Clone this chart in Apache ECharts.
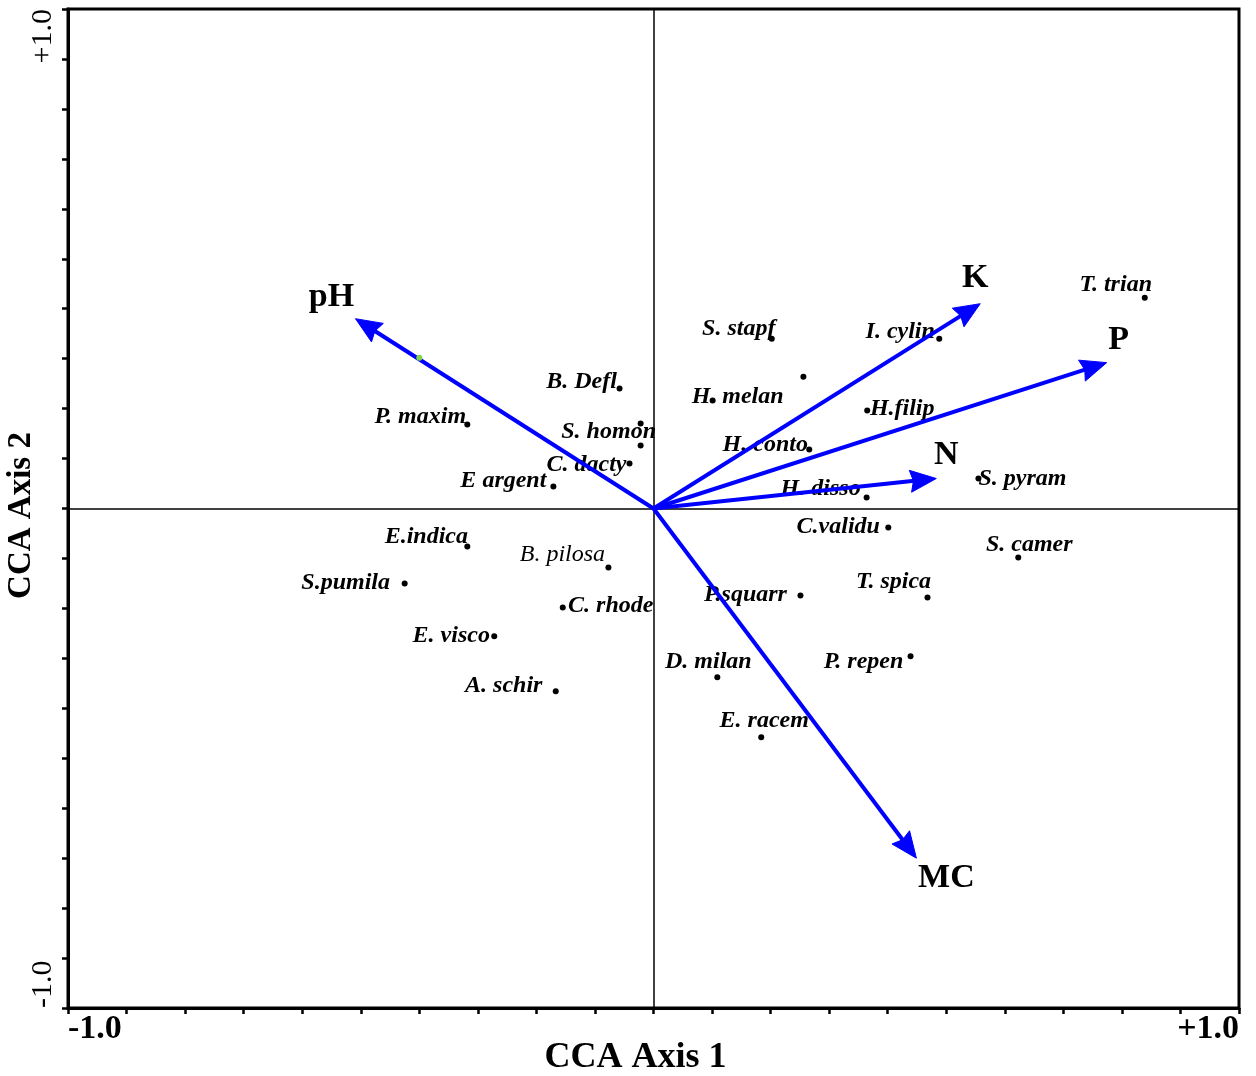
<!DOCTYPE html>
<html><head><meta charset="utf-8">
<script src="https://cdn.jsdelivr.net/npm/echarts@6/dist/echarts.min.js"></script>
<style>html,body{margin:0;padding:0;background:#fff}#c{width:1256px;height:1076px}</style>
</head><body><div id="c"></div>
<script>
// ---- data ----
const axisTitles = ['CCA Axis 1', 'CCA Axis 2'];
const tickLabels = {min: '-1.0', max: '+1.0'};
const envNames = ['pH', 'K', 'P', 'N', 'MC'];
const envX = [-0.509, 0.558, 0.774, 0.483, 0.449];
const envY = [0.380, 0.410, 0.292, 0.060, -0.700];
const speciesNames = ['T. trian','S. stapf','I. cylin','','B. Defl','H. melan','H.filip','P. maxim','','S. homon','H. conto','C. dacty','S. pyram','E argent','H. disso','C.validu','E.indica','S. camer','B. pilosa','S.pumila','T. spica','P.squarr','C. rhode','E. visco','P. repen','D. milan','A. schir','E. racem'];
const speciesX = [0.839,0.202,0.488,0.256,-0.058,0.101,0.365,-0.318,-0.022,-0.022,0.266,-0.041,0.555,-0.171,0.364,0.401,-0.318,0.623,-0.077,-0.425,0.468,0.251,-0.155,-0.272,0.439,0.109,-0.167,0.184];
const speciesY = [0.422,0.340,0.340,0.264,0.240,0.216,0.196,0.168,0.170,0.126,0.118,0.090,0.060,0.044,0.022,-0.038,-0.076,-0.098,-0.118,-0.150,-0.178,-0.174,-0.198,-0.256,-0.296,-0.338,-0.366,-0.458];
const minorX = [-0.400];
const minorY = [0.302];

// ---- styles (label offsets in px, relative to dot / arrow tip) ----
const speciesLabelOffset = [[-29,-13],[-33,-10],[-39,-7],[0,0],[-38,-7],[25,-4],[35,-2],[-47,-8],[0,0],[-32,-14],[-44,-5],[-43,1],[44,0],[-50,-6],[-46,-9],[-50,-1],[-41,-10],[11,-13],[-46,-13],[-59,-1],[-34,-16],[-55,-1],[48,-2],[-43,-1],[-47,5],[-9,-16],[-52,-6],[3,-16]];
const envLabelOffset = [[-24,-21],[-5,-25],[12,-22],[10,-23],[30,20]];
const SERIF = '"Liberation Serif","Times New Roman",serif';
const BLUE = '#0000ff';

const chart = echarts.init(document.getElementById('c'), null, {renderer: 'canvas'});

function fmt(v) {
  if (Math.abs(v + 1) < 1e-9) return tickLabels.min;
  if (Math.abs(v - 1) < 1e-9) return tickLabels.max;
  return '';
}

const speciesData = speciesNames.map((n, i) => ({
  value: [speciesX[i], speciesY[i]],
  name: n,
  label: {
    show: n !== '',
    position: 'inside',
    offset: speciesLabelOffset[i],
    formatter: n,
    fontWeight: (n === 'B. pilosa') ? 'normal' : 'bold'
  }
}));

const option = {
  animation: false,
  backgroundColor: '#fff',
  grid: {left: 68, right: 17, top: 9, bottom: 68, containLabel: false, outerBoundsMode: 'none', show: true, borderColor: '#000', borderWidth: 3, backgroundColor: 'transparent'},
  xAxis: {
    type: 'value', min: -1, max: 1, interval: 0.1,
    name: axisTitles[0], nameLocation: 'middle', nameGap: 32, nameMoveOverlap: false,
    nameTextStyle: {fontFamily: SERIF, fontWeight: 'bold', fontSize: 36, color: '#000', padding: [0, 36, 0, 0]},
    axisLine: {show: true, onZero: false, lineStyle: {color: '#000', width: 3}},
    axisTick: {show: true, inside: false, length: 6, lineStyle: {color: '#000', width: 2.5}},
    axisLabel: {show: true, formatter: fmt, margin: 4, fontFamily: SERIF, fontWeight: 'bold', fontSize: 34, color: '#000', alignMinLabel: 'left', alignMaxLabel: 'right', showMinLabel: true, showMaxLabel: true},
    splitLine: {show: false}
  },
  yAxis: {
    type: 'value', min: -1, max: 1, interval: 0.1,
    name: axisTitles[1], nameLocation: 'middle', nameGap: 30, nameMoveOverlap: false,
    nameTextStyle: {fontFamily: SERIF, fontWeight: 'bold', fontSize: 33, color: '#000', padding: [0, 14, 0, 0]},
    axisLine: {show: true, onZero: false, lineStyle: {color: '#000', width: 3}},
    axisTick: {show: true, inside: false, length: 6, lineStyle: {color: '#000', width: 2.5}},
    axisLabel: {show: true, formatter: fmt, rotate: 90, margin: 10, fontFamily: SERIF, fontWeight: 'normal', fontSize: 30, color: '#000', alignMinLabel: 'left', alignMaxLabel: 'right', showMinLabel: true, showMaxLabel: true},
    splitLine: {show: false}
  },
  series: [
    {
      type: 'scatter',
      symbol: 'circle', symbolSize: 6,
      itemStyle: {color: '#000', opacity: 1},
      label: {color: '#000', fontFamily: SERIF, fontStyle: 'italic', fontSize: 24, align: 'center', verticalAlign: 'middle'},
      data: speciesData,
      markLine: {
        silent: true, symbol: ['none', 'none'],
        label: {show: false},
        lineStyle: {color: '#000', width: 1.5, type: 'solid', opacity: 1},
        data: [{xAxis: 0}, {yAxis: 0}],
        z: 1
      },
      z: 3
    },
    {
      type: 'scatter', symbolSize: 6,
      itemStyle: {color: '#7fd44a', opacity: 1},
      data: minorX.map((x, i) => [x, minorY[i]]),
      z: 5
    },
    {
      type: 'custom',
      coordinateSystem: 'cartesian2d',
      data: envNames.map((n, i) => [envX[i], envY[i]]),
      z: 4,
      renderItem: function (params, api) {
        const i = params.dataIndex;
        const o = api.coord([0, 0]);
        const t = api.coord([api.value(0), api.value(1)]);
        const dx = t[0] - o[0], dy = t[1] - o[1];
        const L = Math.hypot(dx, dy);
        const ux = dx / L, uy = dy / L;
        const hl = 26, hw = 11;
        const b = [t[0] - ux * hl, t[1] - uy * hl];
        const off = envLabelOffset[i];
        return {
          type: 'group',
          children: [
            {type: 'line', shape: {x1: o[0], y1: o[1], x2: b[0] + ux * 4, y2: b[1] + uy * 4}, style: {stroke: BLUE, lineWidth: 4}},
            {type: 'polygon', shape: {points: [[t[0], t[1]], [b[0] - uy * hw, b[1] + ux * hw], [b[0] + ux * 3, b[1] + uy * 3], [b[0] + uy * hw, b[1] - ux * hw]]}, style: {fill: BLUE, stroke: BLUE, lineWidth: 1}},
            {type: 'text', style: {text: envNames[i], x: t[0] + off[0], y: t[1] + off[1], align: 'center', verticalAlign: 'middle', font: 'bold 34px ' + SERIF, fill: '#000'}}
          ]
        };
      }
    }
  ]
};
chart.setOption(option);
</script>
</body></html>
